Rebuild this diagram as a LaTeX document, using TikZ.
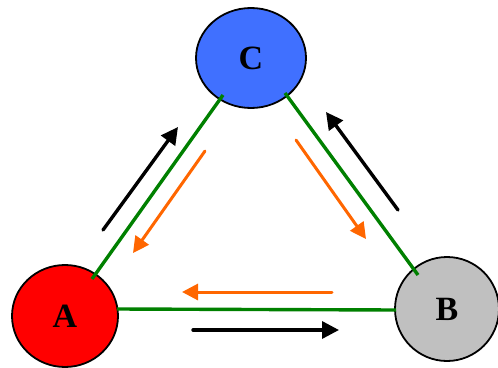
\documentclass[tikz,border=0pt]{standalone}
\usepackage{fontspec}
\setmainfont{Liberation Serif}
\usetikzlibrary{shapes.geometric,arrows.meta}
\definecolor{cblue}{RGB}{64,112,255}
\definecolor{cred}{RGB}{255,0,0}
\definecolor{cgray}{RGB}{192,192,192}
\definecolor{cgreen}{RGB}{0,128,0}
\definecolor{corange}{RGB}{255,102,0}
\begin{document}
\begin{tikzpicture}[x=1pt,y=-1pt,
  vertex/.style={ellipse,draw=black,line width=1.8pt,inner sep=0pt,font=\fontsize{34}{34}\selectfont\bfseries},
  link/.style={draw=cgreen,line width=3.4pt},
  flowblack/.style={draw=black,line width=3.4pt,line cap=round,-{Triangle[length=17pt,width=17pt]}},
  floworange/.style={draw=corange,line width=3pt,line cap=round,-{Triangle[length=16pt,width=16pt]}}]
\useasboundingbox (0,0) rectangle (498,367);
\node[vertex,fill=cblue,minimum width=110pt,minimum height=100pt] (C) at (251,58) {C};
\node[vertex,fill=cred,minimum width=106pt,minimum height=102pt] (A) at (65,316) {A};
\node[vertex,fill=cgray,minimum width=104pt,minimum height=104pt] (B) at (447,309) {B};
% green links
\coordinate (ac1) at (92,279); \coordinate (ac2) at (223,95);
\coordinate (cb1) at (285,93); \coordinate (cb2) at (418,275);
\coordinate (ab1) at (117,309); \coordinate (ab2) at (396,310);
\draw[link] (ac1) -- (ac2);
\draw[link] (cb1) -- (cb2);
\draw[link] (ab1) -- (ab2);
% arrows
\coordinate (k1s) at (103,230); \coordinate (k1e) at (178,127);
\coordinate (o1s) at (205,151); \coordinate (o1e) at (133,253);
\coordinate (k2s) at (398,210); \coordinate (k2e) at (326,112);
\coordinate (o2s) at (296,140); \coordinate (o2e) at (366,239);
\coordinate (o3s) at (332,292); \coordinate (o3e) at (182,292);
\coordinate (k3s) at (193,330); \coordinate (k3e) at (339,330);
\draw[flowblack] (k1s) -- (k1e);
\draw[floworange] (o1s) -- (o1e);
\draw[flowblack] (k2s) -- (k2e);
\draw[floworange] (o2s) -- (o2e);
\draw[floworange] (o3s) -- (o3e);
\draw[flowblack] (k3s) -- (k3e);
\end{tikzpicture}
\end{document}
